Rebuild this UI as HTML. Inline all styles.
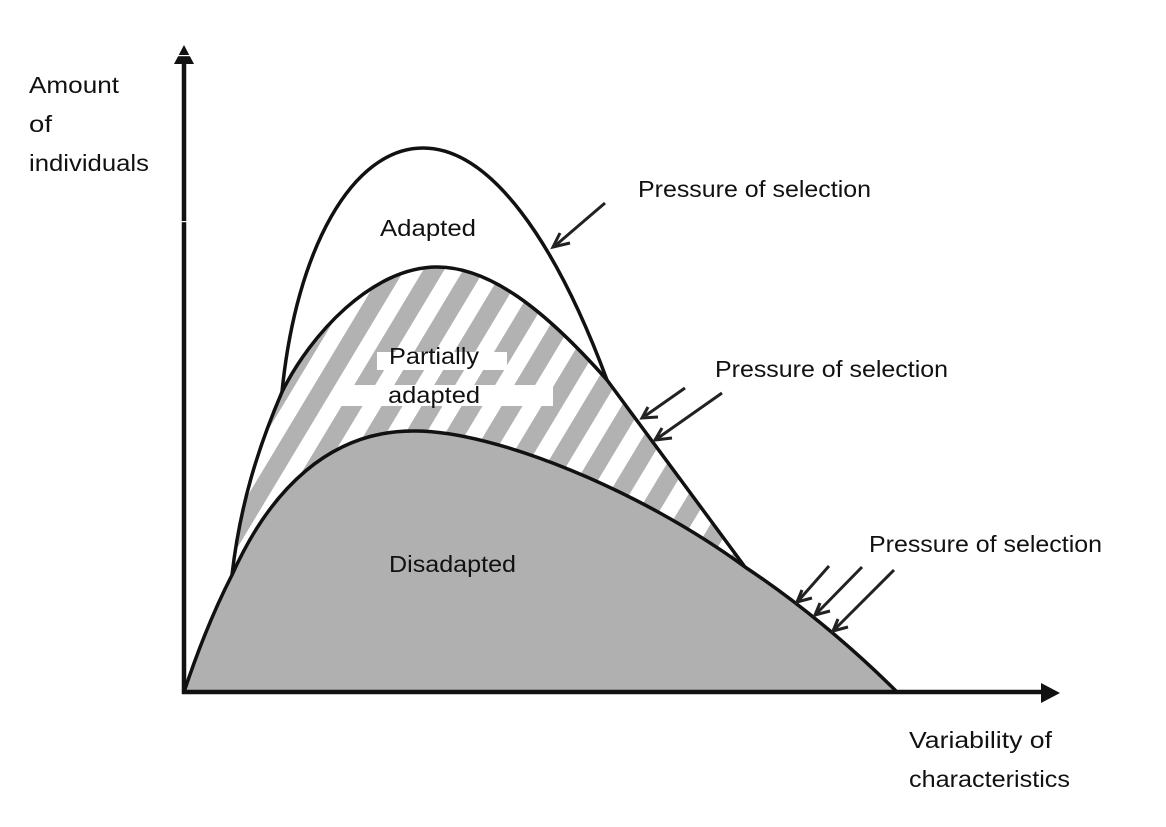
<!DOCTYPE html>
<html><head><meta charset="utf-8">
<style>
html,body{margin:0;padding:0;background:#fff;width:1166px;height:827px;overflow:hidden}
svg{display:block}
text{font-family:"Liberation Sans",sans-serif;font-size:23px;fill:#111}
</style></head>
<body>
<svg width="1166" height="827" viewBox="0 0 1166 827" xmlns="http://www.w3.org/2000/svg">
<defs>
<pattern id="st" width="40" height="40" patternUnits="userSpaceOnUse" patternTransform="skewX(-31) translate(16 0)">
<rect x="9.5" y="0" width="21" height="40" fill="#b2b2b2"/>
</pattern>
</defs>
<rect width="1166" height="827" fill="#fff"/>
<!-- striped region -->
<path d="M232 575 C240 505 258 448 282 392 C310 335 372 267 437 267 C490 267 545 310 607 380 L745 567 L415 431 Z" fill="url(#st)"/>
<rect x="377" y="352" width="130" height="18" fill="#fff"/>
<rect x="337" y="385" width="216" height="21" fill="#fff"/>
<!-- disadapted -->
<path d="M184 692 C198 650 214 610 232 575 C270 490 330 430 415 431 C495 431 640 490 745 567 C795 600 850 645 897 692 Z" fill="#b0b0b0"/>
<g fill="none" stroke="#111" stroke-width="3.5">
<path d="M184 692 C198 650 214 610 232 575 C270 490 330 430 415 431 C495 431 640 490 745 567 C795 600 850 645 897 692"/>
<path d="M232 575 C240 505 258 448 282 392 C310 335 372 267 437 267 C490 267 545 310 607 380 L745 567"/>
<path d="M282 392 C296 250 352 148 423 148 C490 148 555 240 607 380"/>
</g>
<!-- axes -->
<g stroke="#111" stroke-width="4.5" fill="none">
<path d="M184 60 V694"/>
<path d="M182 692 H1042"/>
</g>
<path d="M184 45 L174 64 H194 Z" fill="#111"/>
<path d="M1060 693 L1041 683 V703 Z" fill="#111"/>
<rect x="174" y="55" width="20" height="1.2" fill="#fff"/>
<rect x="181" y="221" width="6" height="1.2" fill="#fff"/>
<!-- arrows -->
<g stroke="#222" stroke-width="3" fill="none">
<path d="M605 203 L556 245"/><path d="M560 233 L553 247 L570 243"/>
<path d="M685 388 L645 416"/><path d="M648 407 L642 418 L658 417"/>
<path d="M722 393 L658 438"/><path d="M662 428 L655 440 L672 438"/>
<path d="M829 566 L799 600"/><path d="M802 590 L797 602 L812 598"/>
<path d="M862 567 L817 613"/><path d="M820 603 L815 615 L830 611"/>
<path d="M894 570 L835 629"/><path d="M838 619 L833 631 L848 627"/>
</g>
<!-- labels -->
<text x="29" y="93" textLength="90" lengthAdjust="spacingAndGlyphs">Amount</text>
<text x="29" y="132" textLength="23" lengthAdjust="spacingAndGlyphs">of</text>
<text x="29" y="171" textLength="120" lengthAdjust="spacingAndGlyphs">individuals</text>
<text x="638" y="197" textLength="233" lengthAdjust="spacingAndGlyphs">Pressure of selection</text>
<text x="715" y="377" textLength="233" lengthAdjust="spacingAndGlyphs">Pressure of selection</text>
<text x="869" y="552" textLength="233" lengthAdjust="spacingAndGlyphs">Pressure of selection</text>
<text x="380" y="236" textLength="96" lengthAdjust="spacingAndGlyphs">Adapted</text>
<text x="389" y="364" textLength="90" lengthAdjust="spacingAndGlyphs">Partially</text>
<text x="388" y="403" textLength="92" lengthAdjust="spacingAndGlyphs">adapted</text>
<text x="389" y="572" textLength="127" lengthAdjust="spacingAndGlyphs">Disadapted</text>
<text x="909" y="748" textLength="143" lengthAdjust="spacingAndGlyphs">Variability of</text>
<text x="909" y="787" textLength="161" lengthAdjust="spacingAndGlyphs">characteristics</text>
</svg>
</body></html>
